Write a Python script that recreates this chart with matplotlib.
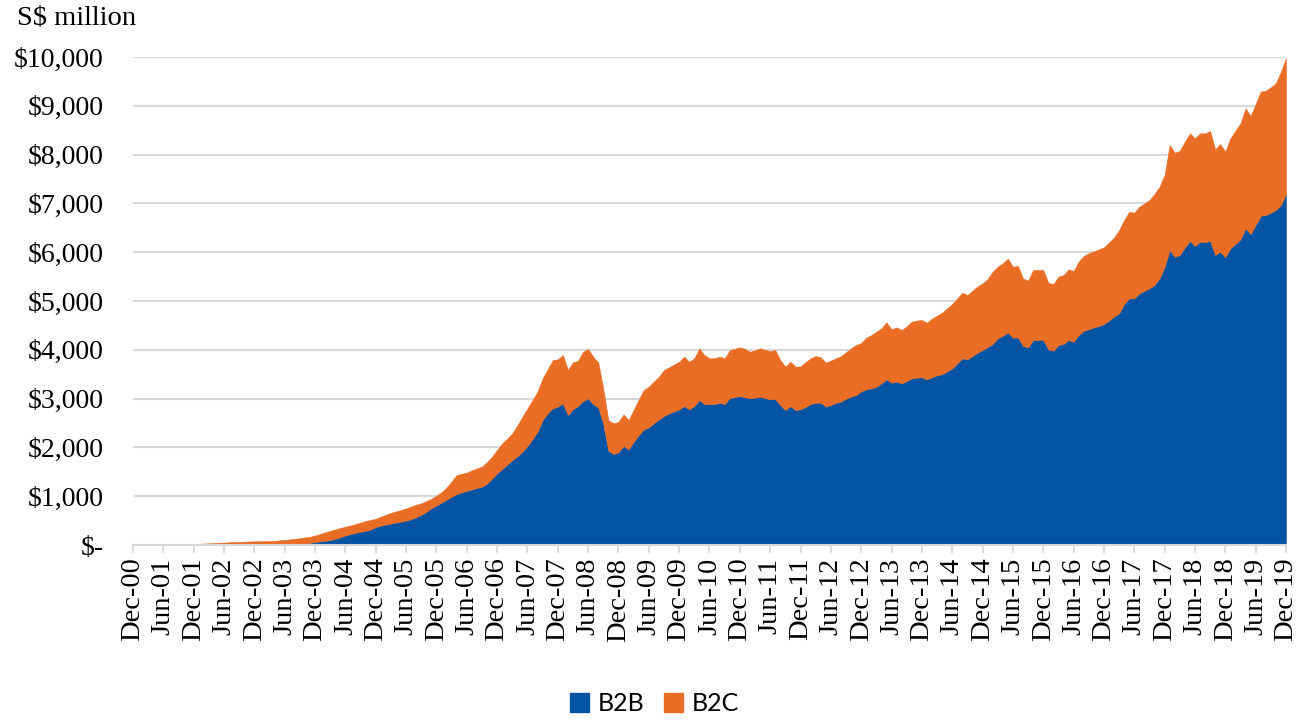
import numpy as np
import pandas as pd
import matplotlib
matplotlib.use("Agg")
import matplotlib.pyplot as plt
from matplotlib.patches import Patch

# Monthly values, S$ million, Dec-00 .. Dec-19 (one row per year)
total = [
    0,
    2, 4, 6, 8, 10, 12, 14, 16, 17, 18, 19, 20,
    25, 30, 35, 40, 45, 50, 55, 60, 64, 68, 72, 75,
    77, 78, 80, 85, 95, 105, 115, 125, 140, 155, 170, 195,
    225, 260, 290, 320, 350, 375, 400, 430, 460, 490, 515, 540,
    580, 620, 660, 690, 717, 750, 790, 825, 854, 900, 950, 1010,
    1080, 1180, 1300, 1434, 1460, 1482, 1530, 1570, 1605, 1700, 1810, 1950,
    2083, 2180, 2288, 2450, 2630, 2800, 2970, 3142, 3415, 3600, 3791, 3805,
    3893, 3586, 3743, 3777, 3961, 4016, 3859, 3740, 3200, 2561, 2493, 2520,
    2678, 2561, 2766, 2980, 3176, 3245, 3350, 3449, 3586, 3641, 3700, 3756,
    3859, 3756, 3826, 4031, 3893, 3826, 3826, 3859, 3826, 3990, 4020, 4051,
    4020, 3961, 3990, 4031, 4000, 3975, 3996, 3791, 3654, 3756, 3654, 3660,
    3750, 3826, 3873, 3846, 3736, 3780, 3826, 3870, 3950, 4030, 4098, 4140,
    4250, 4303, 4371, 4440, 4563, 4420, 4461, 4406, 4480, 4576, 4600, 4611,
    4555, 4640, 4700, 4760, 4850, 4940, 5055, 5170, 5123, 5211, 5300, 5362,
    5450, 5600, 5703, 5772, 5867, 5703, 5717, 5465, 5416, 5635, 5635, 5635,
    5375, 5348, 5498, 5533, 5649, 5615, 5806, 5922, 5980, 6020, 6059, 6100,
    6200, 6300, 6455, 6660, 6830, 6810, 6933, 7000, 7070, 7193, 7343, 7582,
    8197, 8039, 8080, 8265, 8436, 8334, 8436, 8436, 8484, 8108, 8217, 8060,
    8334, 8490, 8641, 8948, 8791, 9037, 9290, 9310, 9380, 9461, 9700, 9973,
]

b2b = [
    0,
    0, 0, 0, 0, 0, 0, 0, 0, 0, 0, 0, 0,
    0, 0, 0, 0, 0, 0, 0, 0, 0, 0, 0, 0,
    0, 0, 0, 2, 4, 7, 10, 15, 22, 32, 45, 60,
    75, 88, 100, 130, 160, 195, 225, 250, 270, 290, 320, 370,
    400, 420, 440, 460, 480, 500, 530, 570, 620, 680, 757, 810,
    870, 930, 990, 1045, 1080, 1110, 1140, 1170, 1195, 1260, 1360, 1470,
    1560, 1650, 1740, 1820, 1913, 2030, 2170, 2322, 2561, 2700, 2801, 2835,
    2903, 2664, 2787, 2848, 2950, 3005, 2889, 2821, 2480, 1933, 1865, 1900,
    2029, 1961, 2117, 2250, 2370, 2411, 2500, 2575, 2643, 2698, 2740, 2780,
    2848, 2780, 2848, 2971, 2889, 2889, 2889, 2916, 2889, 3010, 3030, 3053,
    3030, 3005, 3020, 3039, 3010, 2985, 2992, 2869, 2766, 2848, 2766, 2780,
    2830, 2889, 2916, 2916, 2835, 2870, 2916, 2940, 3000, 3040, 3074, 3150,
    3190, 3210, 3245, 3313, 3395, 3326, 3347, 3313, 3360, 3415, 3430, 3436,
    3395, 3440, 3480, 3500, 3560, 3620, 3723, 3826, 3805, 3873, 3940, 3996,
    4060, 4119, 4235, 4289, 4358, 4248, 4255, 4078, 4051, 4201, 4201, 4201,
    4010, 3982, 4098, 4119, 4201, 4166, 4303, 4392, 4420, 4460, 4488, 4529,
    4600, 4680, 4748, 4939, 5055, 5055, 5157, 5210, 5260, 5328, 5465, 5703,
    6045, 5908, 5943, 6100, 6230, 6127, 6216, 6202, 6236, 5943, 6010, 5895,
    6080, 6170, 6264, 6489, 6373, 6557, 6748, 6762, 6810, 6865, 6967, 7193,
]

months = pd.date_range("2000-12-01", periods=len(total), freq="MS")
tick_labels = list(months[::6].strftime("%b-%y"))
y_ticks = [0, 1000, 2000, 3000, 4000, 5000, 6000, 7000, 8000, 9000, 10000]
y_labels = ["$-", "$1,000", "$2,000", "$3,000", "$4,000", "$5,000",
            "$6,000", "$7,000", "$8,000", "$9,000", "$10,000"]

blue = "#0554A3"
orange = "#E96D24"
grid_col = "#D9D9D9"
serif = "Liberation Serif"

x = np.arange(len(total))

fig = plt.figure(figsize=(13.09, 7.21), dpi=100)
ax = fig.add_axes([0.1016, 0.2441, 0.8808, 0.6768])

ax.fill_between(x, 0, b2b, color=blue, lw=0.4, edgecolor=blue, zorder=2)
ax.fill_between(x, b2b, total, color=orange, lw=0.4, edgecolor=orange, zorder=2)

ax.set_xlim(0, len(total) - 1)
ax.set_ylim(0, 10000)

ax.set_yticks(y_ticks)
ax.set_yticklabels(y_labels, fontfamily=serif, fontsize=20)
ax.tick_params(axis="y", length=0, pad=21)

ax.set_xticks(x[::6])
ax.set_xticklabels(tick_labels, rotation=90, fontfamily=serif, fontsize=20.5)
ax.tick_params(axis="x", direction="out", length=6, width=1.3, color=grid_col, pad=3)

ax.set_axisbelow(True)
ax.grid(axis="y", color=grid_col, lw=1.5)
for s in ["top", "right", "left"]:
    ax.spines[s].set_visible(False)
ax.spines["bottom"].set_color(grid_col)
ax.spines["bottom"].set_linewidth(1.5)

fig.text(0.013, 0.974, "S$ million", fontfamily=serif, fontsize=20.5, va="center", ha="left")

handles = [Patch(color=blue, label="B2B"), Patch(color=orange, label="B2C")]
fig.legend(handles=handles, loc="center", bbox_to_anchor=(0.5, 0.024), ncol=2,
           frameon=False, prop={"family": "Lato", "size": 18},
           handlelength=0.75, handleheight=0.75, handletextpad=0.35, columnspacing=0.8)

fig.savefig("out.png", dpi=100)
